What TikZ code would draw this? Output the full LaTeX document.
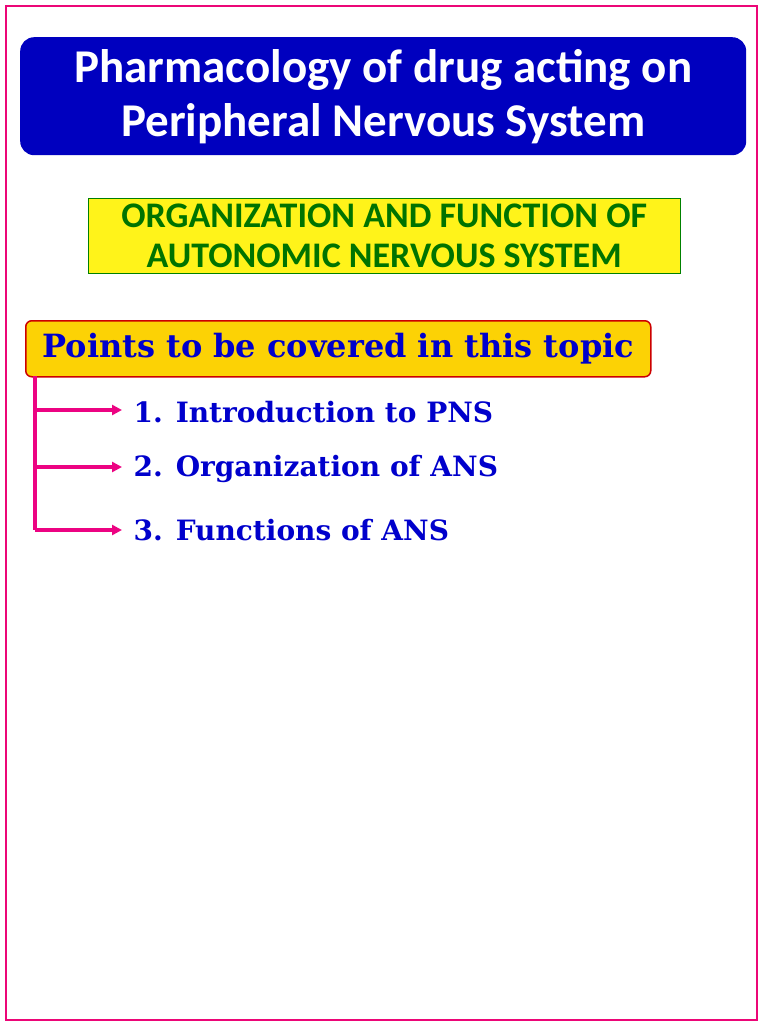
\documentclass[tikz,border=0pt]{standalone}
\usepackage{fontspec}
\setmainfont{Carlito}
\newfontfamily\serifb{DejaVu Serif}
\tikzset{x=1pt,y=-1pt,
  arr/.style={draw=magenta!90!red,line width=3.5pt,shorten >=8pt,-{Triangle[length=10pt,width=10pt]}},
  item/.style={anchor=west,text=blue!80!black,font=\serifb\bfseries\fontsize{28}{34}\selectfont}}
\usetikzlibrary{arrows.meta}
\begin{document}
\begin{tikzpicture}
\useasboundingbox (0,0) rectangle (768,1024);
\fill[white] (0,0) rectangle (768,1024);
\draw[magenta!80!red,line width=2pt] (6,6) rectangle (757,1020);
\node[draw=none,fill=blue!75!black,rounded corners=14pt,minimum width=726pt,minimum height=118pt,anchor=north west,text=white,align=center,font=\bfseries\fontsize{47}{54}\selectfont] (title) at (20,37) {Pharmacology of drug acting on\\Peripheral Nervous System};
\node[draw=green!50!black,fill=yellow!90!white,minimum width=592pt,minimum height=75pt,anchor=north west,align=center,text=green!45!black,font=\bfseries\fontsize{36}{40}\selectfont] (sub) at (88,198) {ORGANIZATION AND FUNCTION OF\\AUTONOMIC NERVOUS SYSTEM};
\node[draw=red!80!black,line width=1.5pt,fill=yellow!70!orange,rounded corners=6pt,minimum width=625pt,minimum height=56pt,anchor=north west,text=blue!80!black,font=\serifb\bfseries\fontsize{32}{36}\selectfont] (pts) at (25,320) {Points to be covered in this topic};
\coordinate (top) at (35,376);
\coordinate (c1) at (35,410);
\coordinate (c2) at (35,467);
\coordinate (c3) at (35,530);
\node[item] (i1) at (130,412) {1. Introduction to PNS};
\node[item] (i2) at (130,469) {2. Organization of ANS};
\node[item] (i3) at (130,530) {3. Functions of ANS};
\draw[magenta!90!red,line width=3.5pt] (top) -- (c3);
\draw[arr] (c1) -- (c1 -| i1.west);
\draw[arr] (c2) -- (c2 -| i2.west);
\draw[arr] (c3) -- (c3 -| i3.west);
\end{tikzpicture}
\end{document}
